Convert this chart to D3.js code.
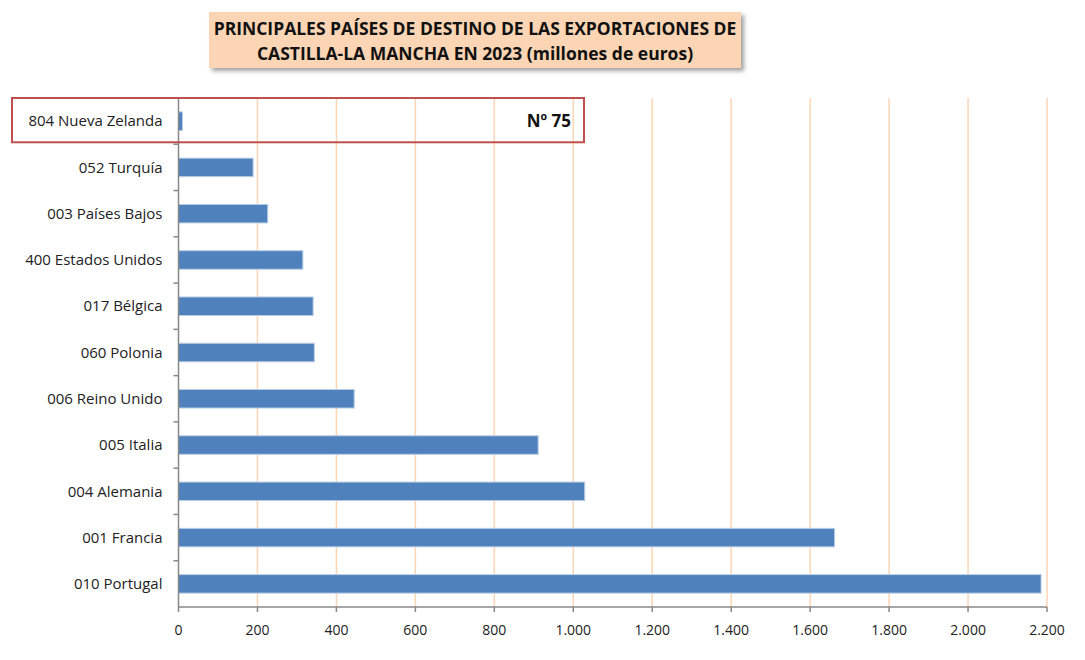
<!DOCTYPE html>
<html>
<head>
<meta charset="utf-8">
<title>Exportaciones Castilla-La Mancha 2023</title>
<script src="https://cdn.jsdelivr.net/npm/d3@7"></script>
<style>
  body { margin: 0; background: #fff; }
  text { font-family: "Open Sans", "Noto Sans", sans-serif; }
  .cat-label { font-size: 15px; fill: #222; }
  .tick-label { font-size: 14px; fill: #222; }
  .title { font-size: 17.5px; font-weight: bold; fill: #111; }
</style>
</head>
<body>
<div id="chart"></div>
<script>
// categories, bottom to top as in the picture
var countries = ["010 Portugal", "001 Francia", "004 Alemania", "005 Italia", "006 Reino Unido",
                 "060 Polonia", "017 Bélgica", "400 Estados Unidos", "003 Países Bajos", "052 Turquía",
                 "804 Nueva Zelanda"];
var exportValues = [2185, 1662, 1029, 911, 445, 344, 341, 315, 226, 189, 10];
var xTicks = [0, 200, 400, 600, 800, 1000, 1200, 1400, 1600, 1800, 2000, 2200];
var titleLines = ["PRINCIPALES PAÍSES DE DESTINO DE LAS EXPORTACIONES DE",
                  "CASTILLA-LA MANCHA EN 2023 (millones de euros)"];
var highlightCountry = "804 Nueva Zelanda";
var highlightLabel = "Nº 75";

var width = 1085, height = 660;
var margin = { left: 178.5, right: 38, top: 98, bottom: 53 };

var svg = d3.select("#chart").append("svg")
  .attr("width", width).attr("height", height);

var x = d3.scaleLinear().domain([0, 2200]).range([margin.left, width - margin.right]);
var y = d3.scaleBand().domain(countries.slice().reverse())
  .range([margin.top, height - margin.bottom]).paddingInner(0.6).paddingOuter(0.3);
var yb = d3.scaleBand().domain(countries.slice().reverse())
  .range([margin.top, height - margin.bottom]);

// gridlines
svg.append("g").selectAll("line")
  .data(xTicks.slice(1))
  .enter().append("line")
  .attr("x1", function (d) { return x(d); })
  .attr("x2", function (d) { return x(d); })
  .attr("y1", margin.top)
  .attr("y2", height - margin.bottom)
  .style("stroke", "#fcd5b4")
  .style("stroke-width", 1.5);

// bars
svg.append("g").selectAll("rect")
  .data(countries)
  .enter().append("rect")
  .attr("x", x(0))
  .attr("y", function (d) { return y(d); })
  .attr("width", function (d, i) { return x(exportValues[i]) - x(0); })
  .attr("height", y.bandwidth())
  .style("fill", "#4f81bd")
  .style("stroke", "#b9cde5")
  .style("stroke-width", 1);

// y axis line and ticks
var yAxisG = svg.append("g");
yAxisG.append("line")
  .attr("x1", x(0)).attr("x2", x(0))
  .attr("y1", margin.top).attr("y2", height - margin.bottom)
  .style("stroke", "#888").style("stroke-width", 1.5);
yAxisG.selectAll("line.tk")
  .data(countries)
  .enter().append("line").attr("class", "tk")
  .attr("x1", x(0) - 5).attr("x2", x(0))
  .attr("y1", function (d) { return yb(d); })
  .attr("y2", function (d) { return yb(d); })
  .style("stroke", "#888").style("stroke-width", 1.5);
yAxisG.selectAll("text")
  .data(countries)
  .enter().append("text").attr("class", "cat-label")
  .attr("x", x(0) - 16)
  .attr("y", function (d) { return yb(d) + yb.bandwidth() / 2; })
  .attr("dy", "0.35em")
  .attr("text-anchor", "end")
  .text(function (d) { return d; });

// x axis
var xAxisG = svg.append("g");
xAxisG.append("line")
  .attr("x1", x(0)).attr("x2", x(2200))
  .attr("y1", height - margin.bottom).attr("y2", height - margin.bottom)
  .style("stroke", "#888").style("stroke-width", 1.5);
xAxisG.selectAll("line.tk")
  .data(xTicks)
  .enter().append("line").attr("class", "tk")
  .attr("x1", function (d) { return x(d); })
  .attr("x2", function (d) { return x(d); })
  .attr("y1", height - margin.bottom).attr("y2", height - margin.bottom + 5)
  .style("stroke", "#888").style("stroke-width", 1.5);
var fmt = d3.formatLocale({ decimal: ",", thousands: ".", grouping: [3], currency: ["", "€"] }).format(",d");
xAxisG.selectAll("text")
  .data(xTicks)
  .enter().append("text").attr("class", "tick-label")
  .attr("x", function (d) { return x(d); })
  .attr("y", height - margin.bottom + 28)
  .attr("text-anchor", "middle")
  .text(function (d) { return fmt(d); });

// highlight box around the selected country
var hb = yb(highlightCountry);
svg.append("rect")
  .attr("x", 12).attr("y", hb)
  .attr("width", 572).attr("height", yb.bandwidth() - 2)
  .style("fill", "none")
  .style("stroke", "#c0504d")
  .style("stroke-width", 2);
svg.append("text")
  .attr("x", 571).attr("y", hb + yb.bandwidth() / 2)
  .attr("dy", "0.35em")
  .attr("text-anchor", "end")
  .style("font-size", "17px").style("font-weight", "bold").style("fill", "#111")
  .text(highlightLabel);

// title box with shadow
var defs = svg.append("defs");
var filt = defs.append("filter").attr("id", "shadow").attr("x", "-5%").attr("y", "-20%")
  .attr("width", "115%").attr("height", "150%");
filt.append("feDropShadow").attr("dx", 3).attr("dy", 3).attr("stdDeviation", 2)
  .attr("flood-color", "#777").attr("flood-opacity", 0.7);
svg.append("rect")
  .attr("x", 209).attr("y", 12).attr("width", 532).attr("height", 56)
  .style("fill", "#fcd5b4")
  .attr("filter", "url(#shadow)");
svg.selectAll("text.title")
  .data(titleLines)
  .enter().append("text").attr("class", "title")
  .attr("x", 475)
  .attr("y", function (d, i) { return 35 + i * 25; })
  .attr("text-anchor", "middle")
  .text(function (d) { return d; });
</script>
</body>
</html>
